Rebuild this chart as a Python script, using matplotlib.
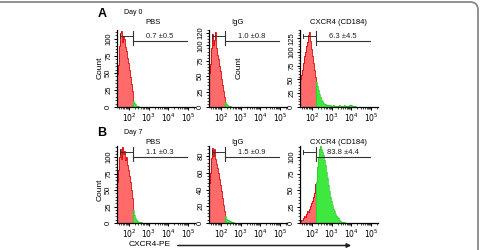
import numpy as np
import matplotlib.pyplot as plt
from matplotlib.patches import FancyBboxPatch, FancyArrowPatch
from matplotlib.ticker import FixedLocator, AutoMinorLocator
from matplotlib.transforms import IdentityTransform

plt.rcParams['font.family'] = ['Liberation Sans', 'DejaVu Sans']

###############################
### data (x in log10 units, bins of 0.05 decade from 10^1.4)

bin_lo = 1.4
bin_w = 0.05
gate = 2.2

titles = ['PBS', 'IgG', 'CXCR4 (CD184)']
day_labels = ['Day 0', 'Day 7']
row_letters = ['A', 'B']
gate_text = [['0.7 ±0.5', '1.0 ±0.8', '6.3 ±4.5'],
             ['1.1 ±0.3', '1.5 ±0.9', '83.8 ±4.4']]
y_ticks = [[[0, 25, 50, 75, 100], [0, 25, 50, 75, 100, 120], [0, 25, 50, 75, 100, 125]],
           [[0, 25, 50, 75, 100], [0, 20, 40, 60, 80], [0, 25, 50, 75, 100]]]
y_tops = [[113, 125, 140], [117, 92, 117]]

a_pbs = [48, 62, 90, 108, 112, 96, 104, 100, 88, 82, 72, 64, 55, 44, 34, 24,
         9, 6, 4, 2, 1, 1]
a_igg = [55, 70, 95, 118, 100, 108, 122, 96, 85, 78, 66, 58, 46, 36, 26, 16,
         8, 5, 3, 2, 1, 1]
a_cxcr4 = [50, 58, 68, 80, 92, 100, 110, 118, 130, 136, 120, 105, 92, 80, 68, 55,
           45, 38, 30, 24, 18, 13, 10, 8, 6, 5, 4, 4, 3, 3, 3, 2, 2, 3, 2, 2,
           2, 2, 2, 2, 3, 2, 2, 2, 2, 3, 2, 1, 2, 2, 3, 4, 3, 2, 1, 1, 1]
b_pbs = [62, 80, 100, 112, 98, 116, 105, 110, 96, 100, 88, 80, 72, 62, 50, 38,
         20, 12, 8, 5, 3, 2, 2, 1, 1]
b_igg = [48, 60, 78, 90, 80, 88, 76, 70, 66, 60, 52, 46, 38, 30, 22, 14,
         8, 5, 4, 3, 2, 2, 1, 1, 1]
b_cxcr4 = [3, 5, 4, 8, 10, 9, 14, 18, 16, 22, 26, 30, 34, 40, 46, 60,
           62, 85, 100, 112, 117, 113, 108, 104, 96, 88, 78, 68, 58, 48, 40, 33,
           27, 22, 18, 14, 11, 9, 7, 5, 4, 3, 2, 2, 1, 1]

counts = [[a_pbs, a_igg, a_cxcr4], [b_pbs, b_igg, b_cxcr4]]

###############################
### layout (pixels, from top-left of a 481x250 figure)

W, H = 481, 250
col_left = [117, 209, 300]
row_bottom = [107, 223]
ax_w, ax_h = 78, 77

fig = plt.figure(figsize=(4.81, 2.5), dpi=100)


def draw_hist(ax, c):
	c = np.array(c, float)
	edges = bin_lo + bin_w * np.arange(len(c) + 1)
	k = int(round((gate - bin_lo) / bin_w))
	ax.stairs(c[:k], edges[:k + 1], fill=True, color='#ff6b6b', lw=0)
	ax.stairs(c[:k], edges[:k + 1], color='#dd0000', lw=0.6)
	ax.stairs(c[k:], edges[k:], fill=True, color='#3ee83e', lw=0)
	ax.stairs(c[k:], edges[k:], color='#22cc22', lw=0.5)


for r in range(2):
	for j in range(3):
		left = col_left[j] / W
		bottom = 1 - row_bottom[r] / H
		ax = fig.add_axes([left, bottom, ax_w / W, ax_h / H])
		draw_hist(ax, counts[r][j])
		ax.set_xlim(1.4, 5.35)
		ax.set_ylim(0, y_tops[r][j])
		for s in ['top', 'right']:
			ax.spines[s].set_visible(False)
		for s in ['left', 'bottom']:
			ax.spines[s].set_linewidth(0.9)
		ax.set_xticks([2, 3, 4, 5])
		ax.set_xticklabels(['$10^2$', '$10^3$', '$10^4$', '$10^5$'])
		minor = [n + np.log10(m) for n in range(1, 6) for m in range(2, 10)]
		minor = [v for v in minor if 1.4 <= v <= 5.35]
		ax.xaxis.set_minor_locator(FixedLocator(minor))
		ax.set_yticks(y_ticks[r][j])
		ax.yaxis.set_minor_locator(AutoMinorLocator(5))
		ax.tick_params(which='major', length=2.5, width=0.7, pad=1, labelsize=5.5, direction='out')
		ax.tick_params(which='minor', length=1.3, width=0.5, direction='out')
		for lab in ax.get_yticklabels():
			lab.set_rotation(90)
			lab.set_va('center')

		# gate markers
		tr = ax.get_xaxis_transform()
		ax.plot([1.55, 2.2], [0.92, 0.92], color='#333333', lw=0.7, transform=tr, clip_on=False)
		ax.plot([1.55, 1.55], [0.89, 0.95], color='#333333', lw=0.7, transform=tr, clip_on=False)
		ax.plot([2.2, 2.2], [0.8, 0.99], color='#333333', lw=0.8, transform=tr, clip_on=False)
		ax.plot([2.2, 4.95], [0.86, 0.86], color='#333333', lw=0.8, transform=tr, clip_on=False)
		ax.text(3.58, 0.865, gate_text[r][j], transform=tr, fontsize=5.5,
				ha='center', va='bottom', color='#222222')

# titles
title_x = [153, 238, 338]
title_y = [23, 142]
for r in range(2):
	for j in range(3):
		fig.text(title_x[j] / W, 1 - title_y[r] / H, titles[j], fontsize=5.5,
				 ha='center', va='center')
	fig.text(102 / W, 1 - (title_y[r] - 9) / H, row_letters[r], fontsize=9,
			 fontweight='bold', ha='center', va='center')
	fig.text(133 / W, 1 - (title_y[r] - 10) / H, day_labels[r], fontsize=5,
			 ha='center', va='center')

# Count labels
for (x, y) in [(100, 68), (239, 68), (100, 190)]:
	fig.text(x / W, 1 - y / H, 'Count', fontsize=6, rotation=90, ha='center', va='center')

# x axis label + arrow
fig.text(150 / W, 5 / H, 'CXCR4-PE', fontsize=6, ha='center', va='center')
fig.add_artist(FancyArrowPatch((175 / W, 4.5 / H), (354 / W, 4.5 / H), transform=fig.transFigure,
							   arrowstyle='-|>', mutation_scale=6, lw=1.1, color='#222222'))

# frame
frame = FancyBboxPatch((-30, -30), 508, 278, boxstyle='round,pad=0,rounding_size=8',
					   transform=IdentityTransform(), fill=False, ec='#888888', lw=1.3)
fig.add_artist(frame)

fig.savefig('out.png', dpi=100)
